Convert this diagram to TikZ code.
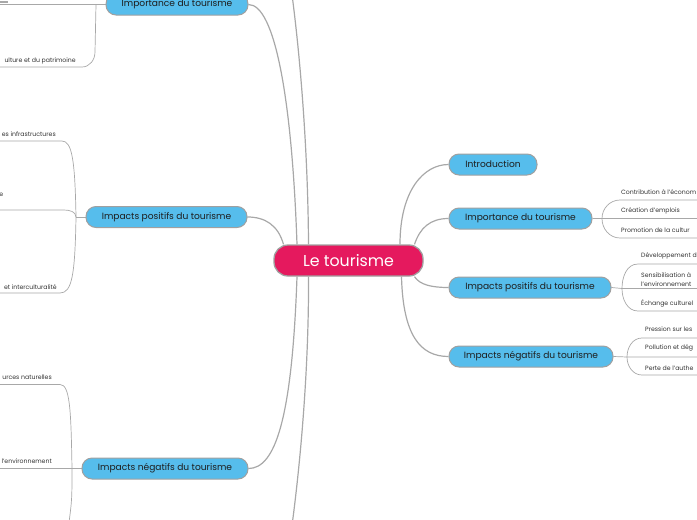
\documentclass[tikz,border=0pt]{standalone}
\usepackage{fontspec}
\setmainfont{Poppins}
\definecolor{pinkc}{HTML}{E5195E}
\definecolor{bluec}{HTML}{56BDEC}
\definecolor{edgec}{HTML}{A8A8A8}
\definecolor{bordc}{HTML}{A0A0A0}
\definecolor{txtc}{HTML}{1E1E1E}
\definecolor{leafc}{HTML}{333333}
\pgfdeclarelayer{bg}
\pgfsetlayers{bg,main}
\begin{document}
\begin{tikzpicture}[x=1pt,y=-1pt,
  topic/.style={rectangle, rounded corners=10pt, fill=bluec, draw=bordc, line width=1pt,
    inner sep=0pt, minimum height=21pt, font=\fontsize{9.1}{10}\selectfont, text=txtc},
  central/.style={rectangle, rounded corners=14pt, fill=pinkc, draw=bordc, line width=1.3pt,
    inner sep=0pt, minimum height=31pt, minimum width=149pt, text=white,
    font=\fontsize{15.8}{18}\selectfont},
  conn/.style={draw=edgec, line width=1.2pt},
  br/.style={draw=edgec, line width=0.7pt},
  leaf/.style={font=\fontsize{6.2}{9}\selectfont, text=leafc, inner sep=0pt}]
\useasboundingbox (0,0) rectangle (697,520);
\clip (0,0) rectangle (697,520);

% main nodes
\node[central] (c) at (348.5,260.5) {Le tourisme};
\node[topic, minimum width=88pt] (intro) at (493,164.5) {Introduction};
\node[topic, minimum width=143pt] (impR) at (520.5,218.5) {Importance du tourisme};
\node[topic, minimum width=162pt] (posR) at (530,287.5) {Impacts positifs du tourisme};
\node[topic, minimum width=164pt] (negR) at (531,356.5) {Impacts négatifs du tourisme};
\node[topic, minimum width=142pt] (impL) at (177,4.5) {Importance du tourisme};
\node[topic, minimum width=161pt] (posL) at (166.5,217) {Impacts positifs du tourisme};
\node[topic, minimum width=166pt] (negL) at (165,468.5) {Impacts négatifs du tourisme};

% leaf texts right
\node[leaf, anchor=west] (r11) at (621,192) {Contribution à l'économ};
\node[leaf, anchor=west] (r12) at (621,211) {Création d'emplois};
\node[leaf, anchor=west] (r13) at (621,230) {Promotion de la cultur};
\node[leaf, anchor=west] (r21) at (641,256) {Développement d};
\node[leaf, anchor=west, align=left] (r22) at (641,279.5) {Sensibilisation à\\l'environnement};
\node[leaf, anchor=west] (r23) at (641,303) {Échange culturel};
\node[leaf, anchor=west] (r31) at (645,329) {Pression sur les};
\node[leaf, anchor=west] (r32) at (645,348) {Pollution et dég};
\node[leaf, anchor=west] (r33) at (645,368) {Perte de l'authe};

% leaf texts left
\node[leaf, anchor=east] (l11) at (76,61) {ulture et du patrimoine};
\node[leaf, anchor=east] (l21) at (56,134) {es infrastructures};
\node[leaf, anchor=east] (l22) at (3.5,195) {e};
\node[leaf, anchor=east] (l23) at (57,287) {et interculturalité};
\node[leaf, anchor=east] (l31) at (52,377) {urces naturelles};
\node[leaf, anchor=east] (l32) at (52,461) {l'environnement};

% coordinates
\coordinate (j1) at (602,218.5);
\coordinate (e11) at (697,200);
\coordinate (e12) at (697,218.5);
\coordinate (e13) at (697,238);
\coordinate (j2) at (622,288.5);
\coordinate (e21) at (697,264);
\coordinate (e22) at (697,288.5);
\coordinate (e23) at (697,311);
\coordinate (j3) at (627,357);
\coordinate (e31) at (697,338);
\coordinate (e32) at (697,357);
\coordinate (e33) at (697,375);
\coordinate (jL1) at (96,4.5);
\coordinate (eL11) at (0,4.5);
\coordinate (eL12) at (0,67);
\coordinate (eL10a) at (0,2);
\coordinate (eL10b) at (8,2);
\coordinate (jL2) at (76,217);
\coordinate (eL21) at (0,141);
\coordinate (eL22) at (0,210);
\coordinate (eL23) at (0,293);
\coordinate (jL3) at (72,468.5);
\coordinate (eL31) at (0,384.5);
\coordinate (eL32) at (0,468.5);
\coordinate (eL33) at (68,530);
\coordinate (offT) at (290,-20);
\coordinate (offB) at (290,540);

\begin{pgfonlayer}{bg}
% main connectors
\draw[conn] ([xshift=51.5pt]c.north) .. controls (400,190) and (424,164.5) .. (intro.west);
\draw[conn] ([xshift=66pt]c.north) .. controls (420,228) and (430,218.5) .. (impR.west);
\draw[conn] ([xshift=66pt]c.south) .. controls (420,285) and (432,287.5) .. (posR.west);
\draw[conn] ([xshift=53pt]c.south) .. controls (403,335) and (420,356.5) .. (negR.west);
\draw[conn] ([xshift=-65pt]c.north) .. controls (278,225) and (265,217) .. (posL.east);
\draw[conn] ([xshift=-51.5pt]c.north) .. controls (292,100) and (275,4.5) .. (impL.east);
\draw[conn] ([xshift=-51.5pt]c.south) .. controls (292,420) and (275,468.5) .. (negL.east);
\draw[conn] ([xshift=-40pt]c.north) .. controls (308,150) and (300,50) .. (offT);
\draw[conn] ([xshift=-40pt]c.south) .. controls (309,370) and (300,470) .. (offB);

% right brackets
\draw[br] (impR.east) -- (e12);
\draw[br] (j1) to[out=90,in=180] (620,200) -- (e11);
\draw[br] (j1) to[out=-90,in=180] (620,238) -- (e13);
\draw[br] (posR.east) -- (j2) -- (e22);
\draw[br] (j2) to[out=90,in=180] (638,264) -- (e21);
\draw[br] (j2) to[out=-90,in=180] (638,311) -- (e23);
\draw[br] (negR.east) -- (j3) -- (e32);
\draw[br] (j3) to[out=90,in=180] (642,338) -- (e31);
\draw[br] (j3) to[out=-90,in=180] (642,375) -- (e33);

% left brackets
\draw[br] (impL.west) -- (eL11);
\draw[br] (jL1) -- (95,52) to[out=-90,in=0] (82,67) -- (eL12);
\draw[draw=edgec, line width=1.4pt] (eL10a) -- (eL10b);
\draw[br] (posL.west) -- (jL2);
\draw[br] (jL2) .. controls (75,160) and (72,141) .. (62,141) -- (eL21);
\draw[br] (eL22) -- (64,210) to[out=0,in=90] (jL2);
\draw[br] (jL2) .. controls (75,275) and (72,293) .. (60,293) -- (eL23);
\draw[br] (negL.west) -- (eL32);
\draw[br] (jL3) .. controls (71,410) and (70,384.5) .. (60,384.5) -- (eL31);
\draw[br] (jL3) .. controls (72,500) .. (eL33);
\end{pgfonlayer}
\end{tikzpicture}
\end{document}
